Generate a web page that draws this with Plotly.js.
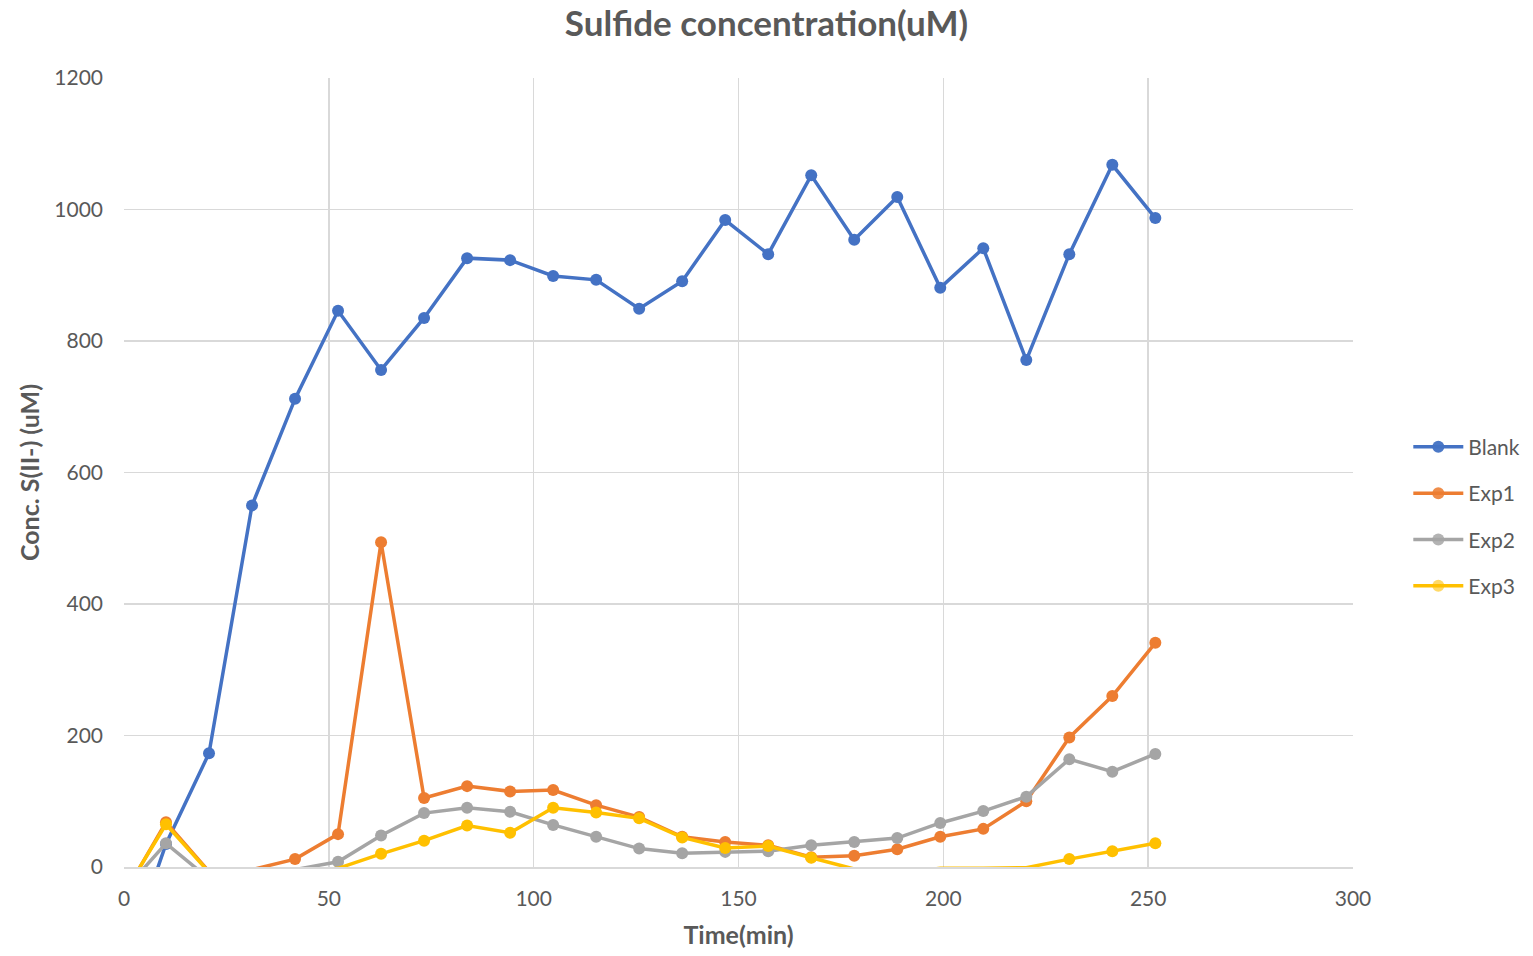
<!DOCTYPE html>
<html>
<head>
<meta charset="utf-8">
<script src="https://cdn.plot.ly/plotly-3.0.1.min.js"></script>
<style>html,body{margin:0;padding:0;background:#fff;}#chart{width:1533px;height:956px;}</style>
</head>
<body>
<div id="chart"></div>
<script>
const timeMin = [0, 10.25, 20.75, 31.25, 41.75, 52.25, 62.75, 73.25, 83.75, 94.25, 104.75, 115.25, 125.75, 136.25, 146.75, 157.25, 167.75, 178.25, 188.75, 199.25, 209.75, 220.25, 230.75, 241.25, 251.75];
const blank = [-150, 35, 173, 550, 712, 846, 756, 835, 926, 923, 899, 893, 849, 891, 984, 932, 1052, 954, 1019, 881, 941, 771, 932, 1068, 987];
const exp1 = [-42, 68, -7, -4, 12, 50, 494, 105, 123, 115, 117, 94, 76, 46, 38, 33, 15, 17, 27, 46, 58, 100, 197, 260, 341];
const exp2 = [-36, 36, -18, -10, -4, 8, 48, 82, 90, 84, 64, 46, 28, 21, 23, 24, 33, 38, 44, 67, 85, 107, 164, 145, 172];
const exp3 = [-40, 65, -8, -10, -8, -2, 20, 40, 63, 52, 90, 83, 74, 45, 29, 32, 14, -3, -9, -2, -2, -1, 12, 24, 36];
const seriesNames = ["Blank", "Exp1", "Exp2", "Exp3"];
const seriesColors = ["#4472C4", "#ED7D31", "#A5A5A5", "#FFC000"];
const seriesData = [blank, exp1, exp2, exp3];

const traces = seriesData.map((vals, i) => ({
  x: timeMin,
  y: vals,
  name: seriesNames[i],
  legendgroup: seriesNames[i],
  type: "scatter",
  mode: "lines+markers",
  line: {color: seriesColors[i], width: 3.5},
  // markers whose centre lies below the axis minimum are not drawn (as in the original)
  marker: {color: seriesColors[i], size: 12, opacity: vals.map(v => v < 0 ? 0 : 1)},
}));

const fam = "Lato, 'Open Sans', sans-serif";
const tickFont = {family: fam, size: 21, color: "#595959"};
const layout = {
  width: 1533, height: 956,
  margin: {l: 124, r: 180, t: 78, b: 89, autoexpand: false},
  paper_bgcolor: "#fff", plot_bgcolor: "#fff",
  font: tickFont,
  title: {text: "<b>Sulfide concentration(uM)</b>", x: 0.5, xref: "container", y: 0.975, yanchor: "middle",
          font: {family: fam, size: 35, color: "#595959"}},
  xaxis: {range: [0, 300], dtick: 50, tick0: 0, showgrid: true, gridcolor: "#d9d9d9", gridwidth: 1.5,
          zeroline: false, showline: true, linecolor: "#d9d9d9", linewidth: 1.5, ticks: "", tickfont: tickFont,
          ticklabelstandoff: 12,
          title: {text: "<b>Time(min)</b>", font: {family: fam, size: 25, color: "#595959"}, standoff: 18}},
  yaxis: {range: [0, 1200], dtick: 200, tick0: 0, showgrid: true, gridcolor: "#d9d9d9", gridwidth: 1.5,
          zeroline: false, showline: false, ticks: "", tickfont: tickFont, ticklabelstandoff: 20,
          title: {text: "<b>Conc. S(II-) (uM)</b>", font: {family: fam, size: 25, color: "#595959"}, standoff: 7}},
  showlegend: true,
  legend: {x: 1.045, xanchor: "left", y: 0.444, yanchor: "middle", traceorder: "grouped", tracegroupgap: 16,
           font: {family: fam, size: 21, color: "#595959"}, itemwidth: 50}
};
Plotly.newPlot("chart", traces, layout, {displayModeBar: false, staticPlot: true});
</script>
</body>
</html>
